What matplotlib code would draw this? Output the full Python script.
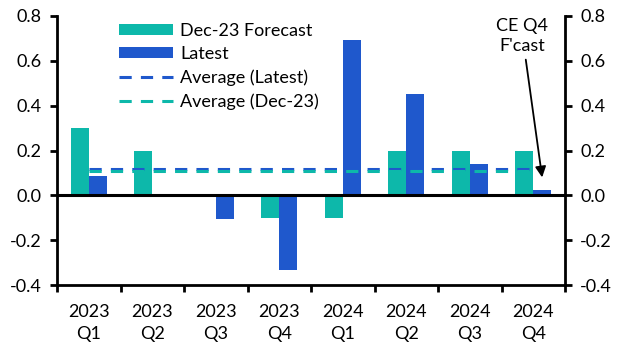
import numpy as np
import matplotlib.pyplot as plt

# --- data ---
quarters = ['2023\nQ1', '2023\nQ2', '2023\nQ3', '2023\nQ4',
            '2024\nQ1', '2024\nQ2', '2024\nQ3', '2024\nQ4']
dec23 = [0.30, 0.20, 0.00, -0.10, -0.10, 0.20, 0.20, 0.20]
latest = [0.085, 0.00, -0.105, -0.335, 0.695, 0.45, 0.14, 0.025]

TEAL = '#0db8aa'
BLUE = '#1f58cc'

plt.rcParams['font.family'] = ['Lato', 'DejaVu Sans']
plt.rcParams['font.size'] = 13

fig = plt.figure(figsize=(6.28, 3.53), dpi=100)
ax = fig.add_axes([0.0908, 0.1926, 0.8089, 0.7621])

x = np.arange(len(quarters))
w = 0.28
b1 = ax.bar(x - w / 2, dec23, w, color=TEAL, label='Dec-23 Forecast', zorder=2)
b2 = ax.bar(x + w / 2, latest, w, color=BLUE, label='Latest', zorder=2)

# averages across the period, drawn from first to last quarter
l1, = ax.plot([x[0], x[-1]], [np.mean(latest)] * 2, color=BLUE, lw=2.2,
              dashes=(4, 3), label='Average (Latest)', zorder=3)
l2, = ax.plot([x[0], x[-1]], [np.mean(dec23) - 0.005] * 2, color=TEAL, lw=2.2,
              dashes=(4, 3), label='Average (Dec-23)', zorder=3)

ax.axhline(0, color='black', lw=2.2, zorder=4)

ax.set_xlim(-0.5, len(quarters) - 0.5)
ax.set_ylim(-0.4, 0.8)
ax.set_yticks(np.arange(-0.4, 0.81, 0.2))
ax.set_yticklabels([f'{v:.1f}' for v in np.arange(-0.4, 0.81, 0.2)])

ax.set_xticks(x)
ax.set_xticklabels(quarters, linespacing=1.45)
ax.set_xticks(np.arange(-0.5, len(quarters), 1), minor=True)
ax.tick_params(axis='x', which='major', length=0, pad=14)
ax.tick_params(axis='x', which='minor', length=5, width=2, direction='out')
ax.tick_params(axis='y', length=5, width=2, direction='out', pad=6)
ax.tick_params(labelright=True, right=True)

for s in ['left', 'right', 'bottom']:
    ax.spines[s].set_linewidth(2)
ax.spines['top'].set_visible(False)

ax.annotate("CE Q4\nF'cast", xy=(x[-1] + w / 2, 0.08), xytext=(x[-1] - 0.17, 0.63),
            ha='center', va='bottom', linespacing=1.35,
            arrowprops=dict(arrowstyle='-|>', color='black', lw=1.3,
                            mutation_scale=16, shrinkA=2, shrinkB=0))

ax.legend([b1, b2, l1, l2], [h.get_label() for h in [b1, b2, l1, l2]],
          loc='upper left', bbox_to_anchor=(0.1, 1.015), frameon=False,
          handlelength=3.0, handleheight=0.5, labelspacing=0.4,
          handletextpad=0.4, borderaxespad=0.2)

fig.savefig('out.png', dpi=100)
